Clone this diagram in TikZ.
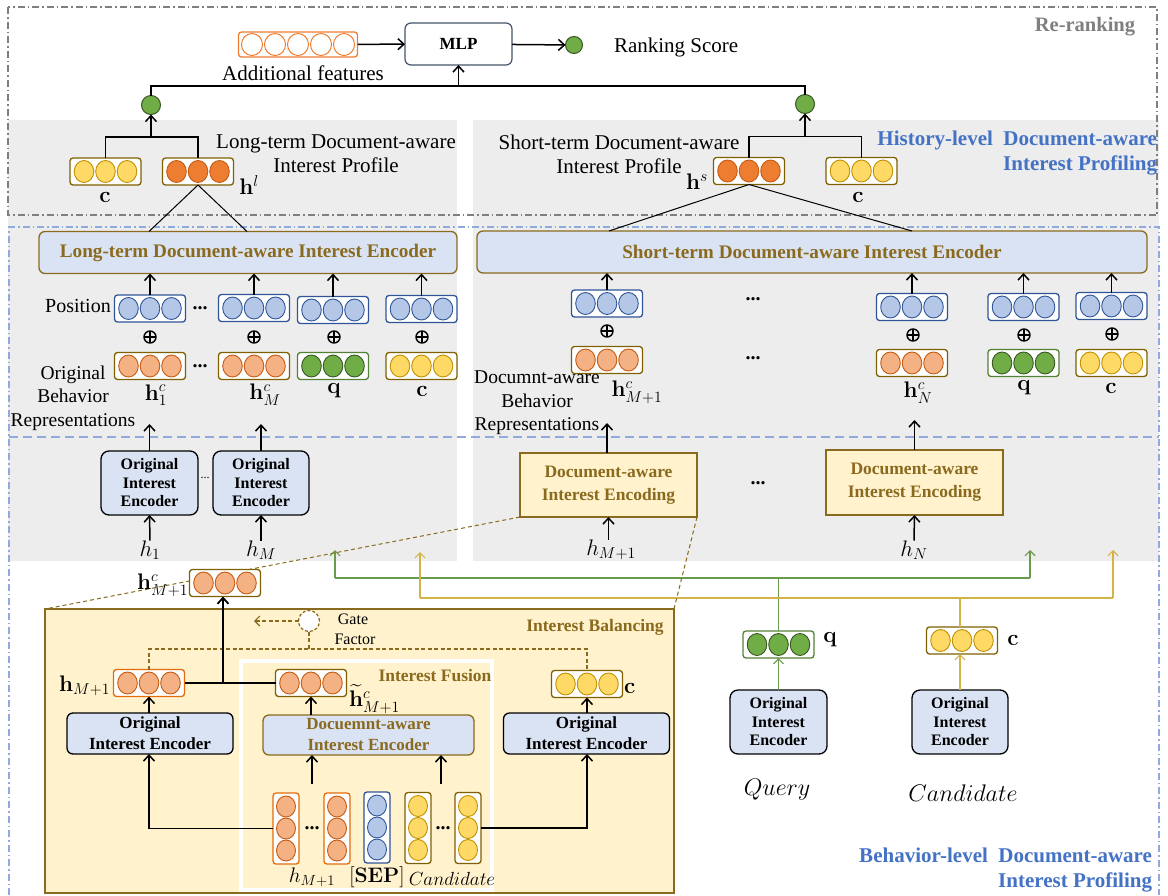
\documentclass[tikz,border=0pt]{standalone}
\usepackage{fix-cm}
\usepackage{amsmath,bm}
\usepackage[no-math]{fontspec}
\setmainfont{Liberation Serif}
\usetikzlibrary{arrows.meta,calc}
\definecolor{gold}{HTML}{8A6A1E}
\definecolor{vgold}{HTML}{7F6000}
\definecolor{lblue}{HTML}{DAE3F3}
\definecolor{cblue}{HTML}{B4C7E7}
\definecolor{dblue}{HTML}{2F5597}
\definecolor{lorange}{HTML}{F4B183}
\definecolor{orstroke}{HTML}{C55A11}
\definecolor{dorange}{HTML}{ED7D31}
\definecolor{borange}{HTML}{E46C0A}
\definecolor{cyellow}{HTML}{FFD966}
\definecolor{ystroke}{HTML}{BF9000}
\definecolor{cgreen}{HTML}{70AD47}
\definecolor{gstroke}{HTML}{385723}
\definecolor{gborder}{HTML}{548235}
\definecolor{panel}{HTML}{EDEDED}
\definecolor{lyellow}{HTML}{FFF2CC}
\definecolor{labblue}{HTML}{4472C4}
\definecolor{frameblue}{HTML}{8FAADC}
\definecolor{rrgray}{HTML}{7F7F7F}
\definecolor{qline}{HTML}{6A9A4B}
\definecolor{cline}{HTML}{D4B348}
\definecolor{mlpborder}{HTML}{44546A}
\tikzset{
  every node/.style={inner sep=0pt, outer sep=0pt},
  T/.style={font=\fontsize{21}{24}\selectfont, align=center},
  M/.style={font=\fontsize{22.5}{24}\selectfont},
  arr/.style={draw=black, line width=1.5pt, -{Straight Barb[length=6pt,width=11pt]}},
  ln/.style={draw=black, line width=1.5pt},
  thinln/.style={draw=black, line width=1pt},
  vec/.style n args={3}{draw=#1, line width=1.3pt, rounded corners=3pt, fill=white,
    minimum width=71pt, minimum height=27pt,
    path picture={\foreach \k in {-21.5,0,21.5}{\draw[draw=#3, fill=#2, line width=0.9pt]
      ([xshift=\k pt]path picture bounding box.center) ellipse [x radius=9.8pt, y radius=11pt];}}},
  cvec/.style n args={3}{draw=#1, line width=1.3pt, rounded corners=3pt, fill=white,
    minimum width=26pt, minimum height=71pt,
    path picture={\foreach \k in {-22,0,22}{\draw[draw=#3, fill=#2, line width=0.9pt]
      ([yshift=\k pt]path picture bounding box.center) ellipse [x radius=9.5pt, y radius=10.5pt];}}},
  addvec/.style={draw=dorange, line width=1.3pt, rounded corners=3pt, fill=white,
    minimum width=119pt, minimum height=25pt,
    path picture={\foreach \k in {-46,-23,0,23,46}{\draw[draw=dorange, fill=white, line width=1pt]
      ([xshift=\k pt]path picture bounding box.center) ellipse [x radius=10.5pt, y radius=11pt];}}},
  bvec/.style={vec={dblue}{cblue}{dblue}},
  ovec/.style={vec={vgold}{lorange}{orstroke}},
  hvec/.style={vec={borange}{lorange}{orstroke}},
  dovec/.style={vec={vgold}{dorange}{orstroke}},
  yvec/.style={vec={vgold}{cyellow}{ystroke}},
  gvec/.style={vec={gborder}{cgreen}{gstroke}},
  gdot/.style={circle, minimum size=19pt, fill=cgreen, draw=gstroke, line width=1pt},
  mlpbox/.style={draw=mlpborder, line width=1.2pt, rounded corners=6pt, fill=white,
    minimum width=107pt, minimum height=42pt, font=\fontsize{17}{20}\selectfont\bfseries},
  encbox/.style={draw=gold, line width=1.3pt, rounded corners=6pt, fill=lblue,
    font=\fontsize{19.2}{22}\selectfont\bfseries, text=gold},
  oie/.style={draw=black, line width=1.3pt, rounded corners=8pt, fill=lblue,
    minimum width=97pt, minimum height=64pt, align=center,
    font=\fontsize{16}{18.5}\selectfont\bfseries},
  oieb/.style={draw=black, line width=1.3pt, rounded corners=6pt, fill=lblue,
    minimum width=166pt, minimum height=41pt, align=center,
    font=\fontsize{17}{21}\selectfont\bfseries},
  dae/.style={draw=gold, line width=1.6pt, fill=lyellow,
    minimum width=177pt, minimum height=64pt, align=center, text=gold,
    font=\fontsize{17.5}{23}\selectfont\bfseries},
  op/.style={circle, draw=black, line width=1.4pt, minimum size=12pt,
    path picture={\draw[line width=1.4pt] (path picture bounding box.north) -- (path picture bounding box.south)
      (path picture bounding box.west) -- (path picture bounding box.east);}},
  dts/.style={font=\fontsize{20}{20}\selectfont\bfseries},
  bluelab/.style={text=labblue, font=\fontsize{21}{25}\selectfont\bfseries, align=right},
  gdash/.style={draw=gold, line width=1.2pt, dash pattern=on 4pt off 2.5pt},
  qarr/.style={draw=qline, line width=1.1pt, -{Straight Barb[length=5pt,width=10pt]}},
  carr/.style={draw=cline, line width=1.1pt, -{Straight Barb[length=5pt,width=10pt]}},
}
\begin{document}
\begin{tikzpicture}[x=1pt,y=-1pt]
\useasboundingbox (0,0) rectangle (1168,895);
% background panels
\fill[panel] (8,120) rectangle (457,561);
\fill[panel] (473,120) rectangle (1159,561);
% frames
\draw[rrgray, line width=1.2pt, dash pattern=on 7pt off 3pt on 1.5pt off 3pt] (8,7) rectangle (1157,215);
\draw[frameblue, line width=1.2pt, dash pattern=on 7pt off 3pt on 1.5pt off 3pt] (9,895) -- (9,227) -- (1159,227) -- (1159,895);
\draw[frameblue, line width=1.2pt, dash pattern=on 9pt off 5pt] (9,437) -- (1159,437);
\node[font=\fontsize{20.5}{22}\selectfont\bfseries, text=rrgray] (rr) at (1085,27) {Re-ranking};

% ---------- re-ranking top ----------
\node[addvec] (addf) at (298,44.5) {};
\node[T] (addl) at (303,73) {Additional features};
\node[mlpbox] (mlp) at (458.5,44) {MLP};
\node[gdot, minimum size=17pt] (score) at (574,45) {};
\node[T, anchor=west] (rs) at (614,47) {Ranking Score};
\draw[arr] (addf) -- (mlp);
\draw[arr] (mlp) -- (score);
\node[gdot] (cl) at (151,105) {};
\node[gdot] (cr) at (805,104) {};
\coordinate (jt) at (458.5,86);
\draw[ln] (cl.north) |- (jt) -| (cr.north);
\draw[arr] (jt) -- (mlp.south);

% ---------- profiles ----------
\node[yvec] (cL) at (105.5,171.5) {};
\node[dovec] (hl) at (198,171.5) {};
\node[M] (cLl) at (105,197) {$\mathbf{c}$};
\node[M] (hll) at (249,185) {$\mathbf{h}^{l}$};
\draw[ln] (cL.north) -- ++(0,-21) -| (hl.north);
\coordinate (fL) at (151,138);
\draw[arr] (fL) -- (cl.south);
\node[T] (ltp) at (336,154) {Long-term Document-aware\\Interest Profile};

\node[dovec] (hs) at (749,171) {};
\node[yvec] (cR) at (861.5,171) {};
\node[M] (hsl) at (697,182) {$\mathbf{h}^{s}$};
\node[M] (cRl) at (858,197) {$\mathbf{c}$};
\draw[ln] (hs.north) -- ++(0,-21) -| (cR.north);
\coordinate (fR) at (805,137);
\draw[arr] (fR) -- (cr.south);
\node[T] (stp) at (619,154) {Short-term Document-aware\\Interest Profile};
\node[bluelab, anchor=east] (hlev) at (1157,153) {History-level\ \ Document-aware\\Interest Profiling};

% ---------- encoders ----------
\node[encbox, minimum width=418pt, minimum height=42pt] (lenc) at (248,252.5) {Long-term Document-aware Interest Encoder};
\node[encbox, minimum width=670pt, minimum height=42pt] (senc) at (812,252) {Short-term Document-aware Interest Encoder};
\draw[thinln] (hl.south) -- (149,0 |- lenc.north);
\draw[thinln] (hl.south) -- (247,0 |- lenc.north);
\draw[thinln] (hs.south) -- (609,0 |- senc.north);
\draw[thinln] (hs.south) -- (912,0 |- senc.north);

% ---------- left rows ----------
\foreach \n/\x/\y in {bl1/150/308.5, bl2/254/308, bl3/333/310, bl4/421.5/309}{
  \node[bvec] (\n) at (\x,\y) {};
  \draw[arr] (\n.north) -- (\n.north |- lenc.south);
}
\foreach \n/\x/\y in {p1/150/337, p2/254/337, p3/334/337, p4/422/337}
  \node[op] (\n) at (\x,\y) {};
\node[ovec] (ol1) at (150,366) {};
\node[ovec] (ol2) at (254,366) {};
\node[gvec] (gq1) at (333,366) {};
\node[yvec] (yc1) at (421.5,366) {};
\node[dts] (d1) at (200,308) {...};
\node[dts] (d2) at (200,366) {...};
\node[M] (l1) at (156,395) {$\mathbf{h}^c_1$};
\node[M] (l2) at (265,395) {$\mathbf{h}^c_M$};
\node[M] (l3) at (334,391) {$\mathbf{q}$};
\node[M] (l4) at (422,391) {$\mathbf{c}$};
\node[T, font=\fontsize{20}{24}\selectfont] (posl) at (78,306) {Position};
\node[T, font=\fontsize{19.5}{23.5}\selectfont] (obr) at (73,398) {Original\\Behavior\\Representations};

\node[oie] (oie1) at (149.5,483) {Original\\Interest\\Encoder};
\node[oie, minimum width=96pt] (oie2) at (261,483) {Original\\Interest\\Encoder};
\node[font=\fontsize{12}{12}\selectfont] (d3) at (205,478) {...};
\draw[arr] (oie1.north) -- ++(0,-27);
\draw[arr] (oie2.north) -- ++(0,-27);
\node[M] (h1) at (150,550) {$h_1$};
\node[M] (hM) at (261,550) {$h_M$};
\draw[arr] (h1.north) -- (oie1.south);
\draw[arr] (hM.north) -- (oie2.south);

% ---------- right rows ----------
\foreach \n/\x/\y in {br1/607/303.5, br2/912/307, br3/1023.5/307, br4/1111.5/306}{
  \node[bvec] (\n) at (\x,\y) {};
  \draw[arr] (\n.north) -- (\n.north |- senc.south);
}
\foreach \n/\x/\y in {p5/607/331, p6/913/335, p7/1024/335, p8/1112/334}
  \node[op] (\n) at (\x,\y) {};
\node[ovec] (or1) at (607,360) {};
\node[ovec] (or2) at (912,363) {};
\node[gvec] (gq2) at (1023.5,363) {};
\node[yvec] (yc2) at (1111.5,363) {};
\node[dts] (d4) at (753,299) {...};
\node[dts] (d5) at (753,358) {...};
\node[M] (l5) at (637,392) {$\mathbf{h}^c_{M+1}$};
\node[M] (l6) at (918,393) {$\mathbf{h}^c_N$};
\node[M] (l7) at (1024,388) {$\mathbf{q}$};
\node[M] (l8) at (1111,388) {$\mathbf{c}$};
\node[T, font=\fontsize{19.5}{23.5}\selectfont] (dbr) at (537,403) {Documnt-aware\\Behavior\\Representations};

\node[dae] (dae1) at (608.5,485) {Document-aware\\Interest Encoding};
\node[dae, minimum height=65pt] (dae2) at (914.5,482.5) {Document-aware\\Interest Encoding};
\node[dts] (d6) at (758,483) {...};
\draw[arr] (dae1.north -| 607,0) -- ++(0,-30);
\draw[arr] (dae2.north) -- ++(0,-30);
\node[M] (hM1) at (611,550) {$h_{M+1}$};
\node[M] (hN) at (914,550) {$h_N$};
\draw[arr] (hM1.north -| 608.5,0) -- (dae1.south);
\draw[arr] (hN.north) -- (dae2.south);

% ---------- query & candidate ----------
\node[gvec] (qv) at (778.5,644.5) {};
\node[yvec] (cv) at (962,640.5) {};
\node[M] (qvl) at (830,640) {$\mathbf{q}$};
\node[M] (cvl) at (1013,640) {$\mathbf{c}$};
\node[oie] (oieq) at (778.5,722) {Original\\Interest\\Encoder};
\node[oie, minimum width=96pt] (oiec) at (960,722) {Original\\Interest\\Encoder};
\node[font=\fontsize{24}{26}\selectfont] (qry) at (777,790) {$Query$};
\node[font=\fontsize{24}{26}\selectfont] (cand) at (963,793) {$Candidate$};
\draw[qarr] (oieq.north) -- (qv.south);
\draw[carr] (oiec.north) -- (oiec.north |- cv.south);
\coordinate (gL) at (335,578);
\coordinate (gR) at (1030,578);
\coordinate (yL) at (420,598);
\coordinate (yR) at (1113,598);
\draw[draw=qline, line width=1.1pt] (qv.north) -- (qv.north |- gL);
\draw[draw=qline, line width=1.1pt] (gL) -- (gR);
\draw[qarr] (gL) -- ++(0,-28);
\draw[qarr] (gR) -- ++(0,-28);
\draw[draw=cline, line width=1.1pt] (cv.north -| 960,0) -- (960,0 |- yL);
\draw[draw=cline, line width=1.1pt] (yL) -- (yR);
\draw[carr] (yL) -- ++(0,-46);
\draw[carr] (yR) -- ++(0,-48);
\node[bluelab, anchor=east] (blev) at (1152,870) {Behavior-level\ \ Document-aware\\Interest Profiling};

% ---------- interest balancing ----------
\node[draw=gold, line width=1.8pt, fill=lyellow, minimum width=629pt, minimum height=284pt] (bal) at (359.5,751) {};
\node[draw=white, line width=4pt, fill=lyellow, minimum width=251pt, minimum height=229pt] (fus) at (366.5,775) {};
\draw[gold, line width=1.8pt] (bal.south west) rectangle (bal.north east);
\draw[draw=gold, line width=1pt, dash pattern=on 4pt off 3pt] (dae1.south west) -- (bal.north west);
\draw[draw=gold, line width=1pt, dash pattern=on 4pt off 3pt] (dae1.south east) -- (bal.north east);
\node[font=\fontsize{17.5}{18}\selectfont\bfseries, text=gold] (ibl) at (595,627) {Interest Balancing};
\node[font=\fontsize{17.5}{18}\selectfont\bfseries, text=gold] (ifl) at (435,676) {Interest Fusion};

\node[ovec] (hcm1) at (225,583) {};
\node[M, anchor=east] (hcm1l) at (188,585) {$\mathbf{h}^c_{M+1}$};

\node[circle, draw=gold, fill=white, line width=1.2pt, dash pattern=on 3pt off 2pt, minimum size=21pt] (gate) at (309,621) {};
\coordinate (ga) at (254,621);
\draw[gdash, -{Straight Barb[length=5pt,width=10pt]}] (gate.west) -- (ga);
\node[font=\fontsize{16}{20}\selectfont, align=center] (gfl) at (353,629) {Gate\\\ Factor};

\node[hvec] (hm1) at (149,683) {};
\node[M, anchor=east] (hm1l) at (110,686) {$\mathbf{h}_{M+1}$};
\node[ovec] (tv) at (311,683) {};
\node[M, anchor=west] (tvl) at (349,699) {$\widetilde{\mathbf{h}}^c_{M+1}$};
\node[yvec] (cb) at (587,684) {};
\node[M, anchor=west] (cbl) at (624,688) {$\mathbf{c}$};

\coordinate (gj) at (309,649);
\draw[gdash] (gate.south) -- (gj);
\draw[gdash] (hm1.north) |- (gj) -| (cb.north);

\draw[line width=1.8pt] (hm1.east) -- (tv.west);
\coordinate (mj) at (223,683);
\draw[arr, line width=1.8pt] (mj) -- (mj |- hcm1.south);

\node[oieb] (oieL) at (150,733.5) {Original\\Interest Encoder};
\node[oieb, draw=gold, text=gold, minimum width=211pt, minimum height=40pt] (daeI) at (368.5,735) {Docuemnt-aware\\Interest Encoder};
\node[oieb] (oieR) at (586.5,733.5) {Original\\Interest Encoder};
\draw[arr] (oieL.north -| hm1) -- (hm1.south);
\draw[arr] (tv.south |- daeI.north) -- (tv.south);
\draw[arr] (oieR.north -| cb) -- (cb.south);

\node[cvec={borange}{lorange}{orstroke}] (co1) at (286,828.5) {};
\node[cvec={borange}{lorange}{orstroke}] (co2) at (337,828.5) {};
\node[cvec={dblue}{cblue}{dblue}] (csep) at (377,827.5) {};
\node[cvec={vgold}{cyellow}{ystroke}] (cy1) at (418,828) {};
\node[cvec={vgold}{cyellow}{ystroke}] (cy2) at (468,828) {};
\node[dts] (d7) at (312,828) {...};
\node[dts] (d8) at (443,828) {...};
\coordinate (a1) at (312,784);
\coordinate (a2) at (441,784);
\draw[arr] (a1) -- (a1 |- daeI.south);
\draw[arr] (a2) -- (a2 |- daeI.south);
\draw[arr] (co1.west) -| (oieL.south -| hm1);
\draw[arr] (cy2.east) -| (oieR.south -| cb);
\node[font=\fontsize{21}{22}\selectfont] (bh) at (312,877) {$h_{M+1}$};
\node[font=\fontsize{21}{22}\selectfont] (bs) at (377,877) {$[\mathbf{SEP}]$};
\node[font=\fontsize{19}{22}\selectfont] (bc) at (452,879) {$Candidate$};
\end{tikzpicture}
\end{document}
